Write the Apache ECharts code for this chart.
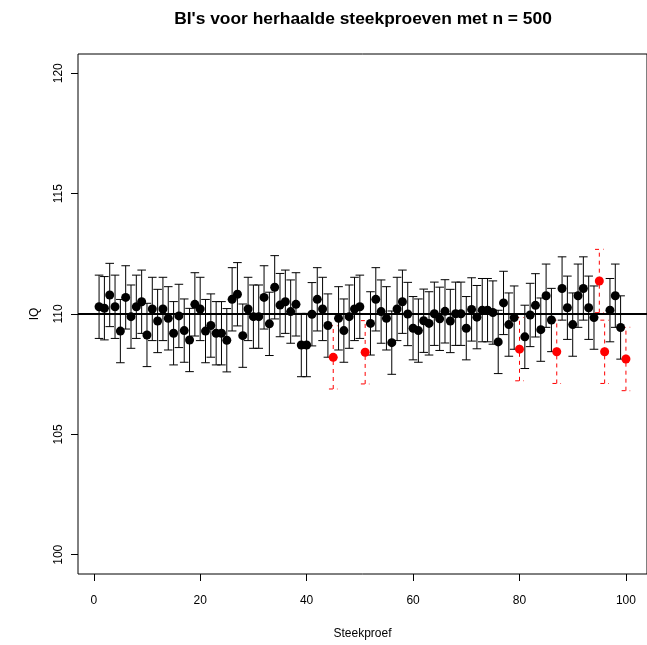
<!DOCTYPE html>
<html>
<head>
<meta charset="utf-8">
<title>BI's voor herhaalde steekproeven</title>
<script src="https://cdn.jsdelivr.net/npm/echarts@6/dist/echarts.min.js"></script>
<style>
  html, body { margin: 0; padding: 0; background: #fff; }
  #chart { width: 647px; height: 645px; }
</style>
</head>
<body>
<div id="chart"></div>
<script>
// Sample means of 100 repeated samples (n = 500) of IQ scores
const sampleIds = Array.from({ length: 100 }, (_, k) => k + 1);
const sampleMeans = [
  110.30, 110.24, 110.79, 110.30, 109.29, 110.69, 109.89, 110.30, 110.51, 109.13,
  110.21, 109.71, 110.21, 109.82, 109.20, 109.92, 109.31, 108.92, 110.40, 110.21,
  109.29, 109.52, 109.20, 109.20, 108.91, 110.61, 110.82, 109.10, 110.21, 109.89,
  109.89, 110.69, 109.59, 111.11, 110.37, 110.51, 110.10, 110.40, 108.71, 108.71,
  109.99, 110.61, 110.21, 109.52, 108.20, 109.82, 109.31, 109.89, 110.21, 110.30,
  108.41, 109.61, 110.61, 110.10, 109.82, 108.81, 110.21, 110.51, 110.00, 109.41,
  109.31, 109.72, 109.61, 110.01, 109.80, 110.11, 109.71, 110.01, 110.01, 109.41,
  110.19, 109.87, 110.16, 110.16, 110.06, 108.84, 110.46, 109.56, 109.85, 108.54,
  109.05, 109.96, 110.36, 109.35, 110.76, 109.75, 108.43, 111.06, 110.26, 109.56,
  110.76, 111.06, 110.26, 109.85, 111.37, 108.43, 110.16, 110.76, 109.44, 108.13
];

// Population parameters and the 95% interval half-width
const mu = 110;
const sigma = 15;
const n = 500;
const z = 1.96;
const halfWidth = z * sigma / Math.sqrt(n);

// Tick labels
const xTicks = [0, 20, 40, 60, 80, 100];
const yTicks = [100, 105, 110, 115, 120];

// Build interval rows: [id, lower, upper, misses-mu flag]
const intervals = sampleIds.map((id, k) => {
  const lo = sampleMeans[k] - halfWidth;
  const hi = sampleMeans[k] + halfWidth;
  return [id, lo, hi, (lo > mu || hi < mu) ? 1 : 0];
});
const points = sampleIds.map((id, k) => [id, sampleMeans[k], intervals[k][3]]);

const FONT = '"Liberation Sans", Arial, Helvetica, sans-serif';
const chart = echarts.init(document.getElementById('chart'), null, { renderer: 'canvas' });

chart.setOption({
  animation: false,
  backgroundColor: '#ffffff',
  title: {
    text: "BI's voor herhaalde steekproeven met n = 500",
    left: 358,
    textAlign: 'center',
    top: 6,
    textStyle: { fontFamily: FONT, fontSize: 17.4, fontWeight: 'bold', color: '#000' }
  },
  grid: {
    left: 78,
    top: 54,
    width: 571,
    height: 520,
    show: true,
    borderColor: '#000',
    borderWidth: 1
  },
  xAxis: {
    type: 'value',
    min: -2.96,
    max: 103.96,
    name: 'Steekproef',
    nameLocation: 'middle',
    nameGap: 54,
    nameTextStyle: { fontFamily: FONT, fontSize: 12, color: '#000' },
    axisLine: { show: false, onZero: false },
    axisTick: { show: true, length: 7, lineStyle: { color: '#000' }, customValues: xTicks },
    axisLabel: { fontFamily: FONT, fontSize: 12, color: '#000', margin: 21, customValues: xTicks },
    splitLine: { show: false }
  },
  yAxis: {
    type: 'value',
    min: 99.2,
    max: 120.8,
    name: 'IQ',
    nameLocation: 'middle',
    nameGap: 37,
    nameRotate: 90,
    nameTextStyle: { fontFamily: FONT, fontSize: 12, color: '#000' },
    axisLine: { show: false, onZero: false },
    axisTick: { show: true, length: 7, lineStyle: { color: '#000', width: 1 }, customValues: yTicks },
    axisLabel: { fontFamily: FONT, fontSize: 12, color: '#000', margin: 13, rotate: 90, customValues: yTicks },
    splitLine: { show: false }
  },
  series: [
    {
      // confidence intervals with end caps
      type: 'custom',
      data: intervals,
      z: 2,
      renderItem: function (params, api) {
        const x = api.value(0);
        const lo = api.coord([x, api.value(1)]);
        const hi = api.coord([x, api.value(2)]);
        const miss = api.value(3) === 1;
        const cap = 4.3;
        const style = miss
          ? { stroke: '#ff0000', lineWidth: 1, lineDash: [4, 4] }
          : { stroke: '#000000', lineWidth: 1 };
        return {
          type: 'group',
          children: [
            { type: 'line', shape: { x1: lo[0], y1: lo[1], x2: hi[0], y2: hi[1] }, style: style },
            { type: 'line', shape: { x1: lo[0] - cap, y1: lo[1], x2: lo[0] + cap, y2: lo[1] }, style: style },
            { type: 'line', shape: { x1: hi[0] - cap, y1: hi[1], x2: hi[0] + cap, y2: hi[1] }, style: style }
          ]
        };
      }
    },
    {
      // sample means
      type: 'scatter',
      data: points,
      z: 3,
      symbol: 'circle',
      symbolSize: 9,
      itemStyle: {
        color: function (p) { return p.data[2] === 1 ? '#ff0000' : '#000000'; },
        opacity: 1
      },
      markLine: {
        silent: true,
        symbol: ['none', 'none'],
        label: { show: false },
        lineStyle: { color: '#000', width: 2, type: 'solid' },
        data: [{ yAxis: mu }]
      }
    }
  ]
});
</script>
</body>
</html>
